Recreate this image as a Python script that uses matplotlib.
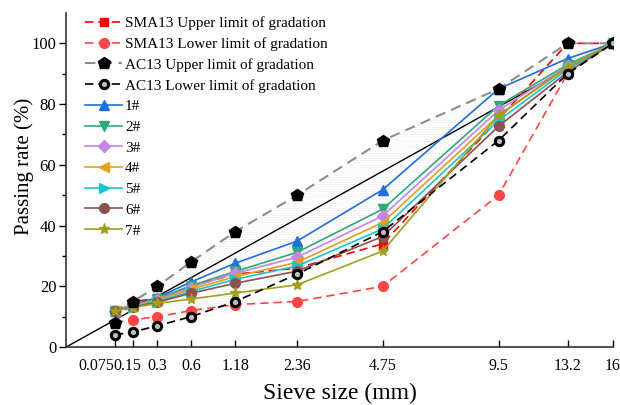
import numpy as np
import matplotlib
import matplotlib.pyplot as plt
from matplotlib.transforms import ScaledTranslation

matplotlib.use('Agg')

plt.rcParams['font.family'] = ['Liberation Serif', 'DejaVu Serif']
plt.rcParams['hatch.color'] = '#efefef'
plt.rcParams['hatch.linewidth'] = 0.5

# sieve sizes (mm) and passing rates (%)
sieves = [0.075, 0.15, 0.3, 0.6, 1.18, 2.36, 4.75, 9.5, 13.2, 16]
sieve_labels = ['0.075', '0.15', '0.3', '0.6', '1.18', '2.36', '4.75', '9.5', '13.2', '16']

sma_upper = [12, 15, 16, 20, 24, 26, 34, 75, 100, 100]
sma_lower = [8, 9, 10, 12, 14, 15, 20, 50, 90, 100]
ac_upper = [8, 15, 20, 28, 38, 50, 68, 85, 100, 100]
ac_lower = [4, 5, 7, 10, 15, 24, 38, 68, 90, 100]

mix_1 = [12, 14.0, 16.3, 21.4, 27.6, 34.9, 51.8, 85.0, 95.0, 100]
mix_2 = [12, 13.8, 15.9, 20.2, 24.9, 31.2, 45.4, 79.5, 93.0, 100]
mix_3 = [12, 13.6, 15.6, 19.6, 24.3, 29.6, 43.2, 77.9, 92.5, 100]
mix_4 = [12, 13.5, 15.3, 19.0, 23.2, 27.9, 41.0, 76.2, 92.0, 100]
mix_5 = [12, 13.3, 15.0, 18.3, 22.3, 26.7, 38.9, 74.6, 91.4, 100]
mix_6 = [12, 13.1, 14.8, 17.7, 21.0, 25.0, 36.4, 72.7, 90.5, 100]
mix_7 = [12, 13.0, 14.4, 15.8, 17.8, 20.5, 31.6, 76.3, 92.3, 100]

# maximum density line endpoints
mdl_size = [0, 16]
mdl_pass = [0, 100]

power = 0.45
xp = np.array(sieves) ** power

fig = plt.figure(figsize=(6.2, 4.05), dpi=100)
ax = fig.add_axes([0.1065, 0.143, 0.882, 0.825])

ax.fill_between(xp, ac_lower, ac_upper, facecolor='none', hatch='-------',
                edgecolor='#efefef', linewidth=0, zorder=0)

ax.plot(np.array(mdl_size) ** power, mdl_pass, color='black', lw=1.0, zorder=2)

ax.plot(xp, sma_upper, color='#ff0000', ls=(0, (5, 3)), lw=1.2, marker='s', ms=6,
        label='SMA13 Upper limit of gradation', zorder=2)
ax.plot(xp, sma_lower, color='#ff4545', ls=(0, (5, 3)), lw=1.2, marker='o', ms=7,
        label='SMA13 Lower limit of gradation', zorder=2)
ax.plot(xp, ac_upper, color='#8c8c8c', ls=(0, (5, 3)), lw=1.5, marker='p', ms=9,
        mfc='black', mec='black', label='AC13 Upper limit of gradation', zorder=4)
ax.plot(xp, ac_lower, color='black', ls=(0, (5, 3)), lw=1.2, marker='o', ms=6,
        mfc='#bdbdbd', mec='black', mew=2.2, label='AC13 Lower limit of gradation', zorder=4)

mixes = [mix_1, mix_2, mix_3, mix_4, mix_5, mix_6, mix_7]
mix_names = ['1#', '2#', '3#', '4#', '5#', '6#', '7#']
mix_colors = ['#1f6fdc', '#2daa76', '#c585e6', '#e0a11c', '#19c6d0', '#8c5252', '#a09f1e']
mix_markers = ['^', 'v', 'D', '<', '>', 'o', '*']
mix_sizes = [7, 7, 6, 7, 7, 7, 8]
for vals, name, c, m, s in zip(mixes, mix_names, mix_colors, mix_markers, mix_sizes):
    ax.plot(xp, vals, color=c, lw=1.2, marker=m, ms=s, label=name, zorder=3)

ax.set_xlim(0, 16 ** power)
ax.set_ylim(0, 110)
ax.set_xticks(xp)
ax.set_xticklabels(sieve_labels)
ax.set_yticks([0, 20, 40, 60, 80, 100])
ax.set_yticks([10, 30, 50, 70, 90], minor=True)

ax.spines['top'].set_visible(False)
ax.spines['right'].set_visible(False)
for sp in ['left', 'bottom']:
    ax.spines[sp].set_linewidth(1.2)
    ax.spines[sp].set_color('#333333')

ax.tick_params(axis='x', direction='in', length=5, width=1.0, labelsize=11.5, pad=8)
ax.tick_params(axis='y', which='major', direction='out', length=5, width=1.0, labelsize=12, pad=2)
ax.tick_params(axis='y', which='minor', direction='out', length=3, width=1.0)

# the two smallest sieve labels are nudged left so they don't collide
shifts = [-19, -6]
for lab, dx in zip(ax.get_xticklabels()[:2], shifts):
    lab.set_transform(lab.get_transform() + ScaledTranslation(dx / 100, 0, fig.dpi_scale_trans))

ax.set_xlabel('Sieve size (mm)', fontsize=17, labelpad=6)
ax.set_ylabel('Passing rate (%)', fontsize=15)
ax.yaxis.set_label_coords(-0.058, 0.54)

ax.legend(loc='upper left', bbox_to_anchor=(0.035, 0.99), frameon=False, fontsize=11,
          handlelength=2.4, handletextpad=0.2, labelspacing=0.46, borderaxespad=0,
          borderpad=0, numpoints=1)

fig.savefig('out.png', dpi=100)
